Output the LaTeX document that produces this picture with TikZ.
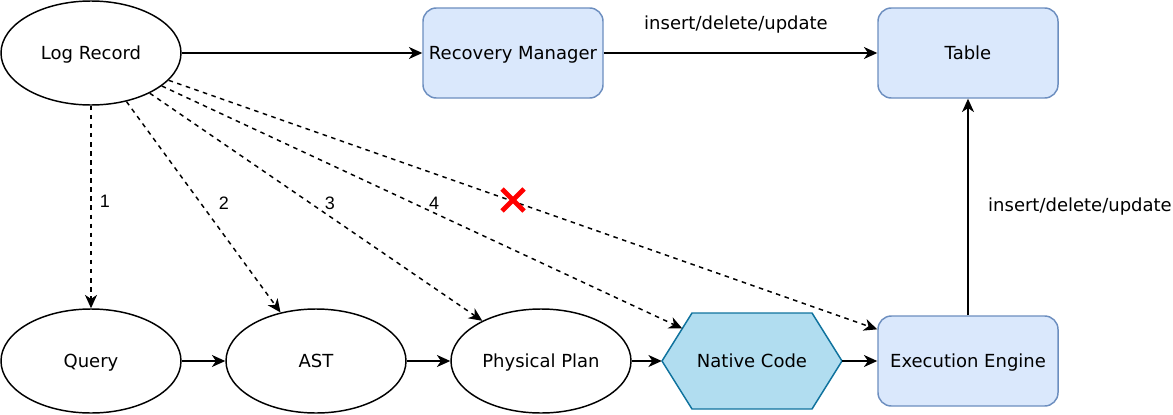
\documentclass[tikz,border=0pt]{standalone}
\usepackage{fontspec}
\setmainfont{DejaVu Sans}
\newfontfamily\numfont{Liberation Sans}
\usetikzlibrary{arrows.meta,shapes.geometric}
\definecolor{boxfill}{HTML}{DAE8FC}
\definecolor{boxstroke}{HTML}{6C8EBF}
\definecolor{hexfill}{HTML}{B1DDF0}
\definecolor{hexstroke}{HTML}{10739E}
\begin{document}
\begin{tikzpicture}[x=0.75pt,y=-0.75pt,
  every node/.style={font=\fontsize{13.5pt}{16pt}\selectfont, inner sep=0pt, text=black,
    text height=9.8pt, text depth=0pt},
  ell/.style={ellipse, draw, line width=1.1pt, minimum width=135pt, minimum height=78pt},
  bluebox/.style={rectangle, rounded corners=10pt, draw=boxstroke, fill=boxfill, line width=1.1pt, minimum width=135pt, minimum height=67.5pt},
  arr/.style={-{Stealth[length=10pt,width=9pt,inset=3pt]}, line width=1.1pt},
  darr/.style={arr, dash pattern=on 3.4pt off 3.4pt},
  numlbl/.style={font=\numfont\fontsize{13.5pt}{16pt}\selectfont, text height=9.7pt}]
\useasboundingbox (0,0) rectangle (1173,414);

% top row
\node[ell] (lr) at (91,53) {Log Record};
\node[bluebox] (rm) at (513,53) {Recovery Manager};
\node[bluebox] (tb) at (968,53) {Table};

% bottom row
\node[ell] (q) at (91,361) {Query};
\node[ell] (ast) at (316,361) {AST};
\node[ell] (pp) at (541,361) {Physical Plan};
\draw[hexstroke, fill=hexfill, line width=1.1pt]
  (662,361) -- (692,313) -- (812,313) -- (842,361) -- (812,409) -- (692,409) -- cycle;
\node[minimum width=135pt, minimum height=72pt] (nc) at (752,361) {Native Code};
\coordinate (nchit) at (682.3,328.5);
\node[bluebox] (ee) at (968,361) {Execution Engine};

% solid connectors
\draw[arr] (lr) -- (rm);
\draw[arr] (rm) -- (tb);
\draw[arr] (ee) -- (tb);
\draw[arr] (q) -- (ast);
\draw[arr] (ast) -- (pp);
\draw[arr] (pp) -- (nc);
\draw[arr] (nc) -- (ee);

% dashed connectors
\draw[darr] (lr) -- (q);
\draw[darr] (lr) -- (ast);
\draw[darr] (lr) -- (pp);
\draw[darr] (lr) -- (nchit);
\draw[darr] (lr) -- (ee);

% labels
\node (l0) at (736,23) {insert/delete/update};
\node (l5) at (1080,204.5) {insert/delete/update};
\node[numlbl] (n1) at (105,201) {1};
\node[numlbl] (n2) at (224,203.5) {2};
\node[numlbl] (n3) at (330,203.5) {3};
\node[numlbl] (n4) at (434,203.5) {4};

% red cross
\draw[red, line width=3.6pt] (502,189) -- (524,211) (502,211) -- (524,189);
\end{tikzpicture}
\end{document}
